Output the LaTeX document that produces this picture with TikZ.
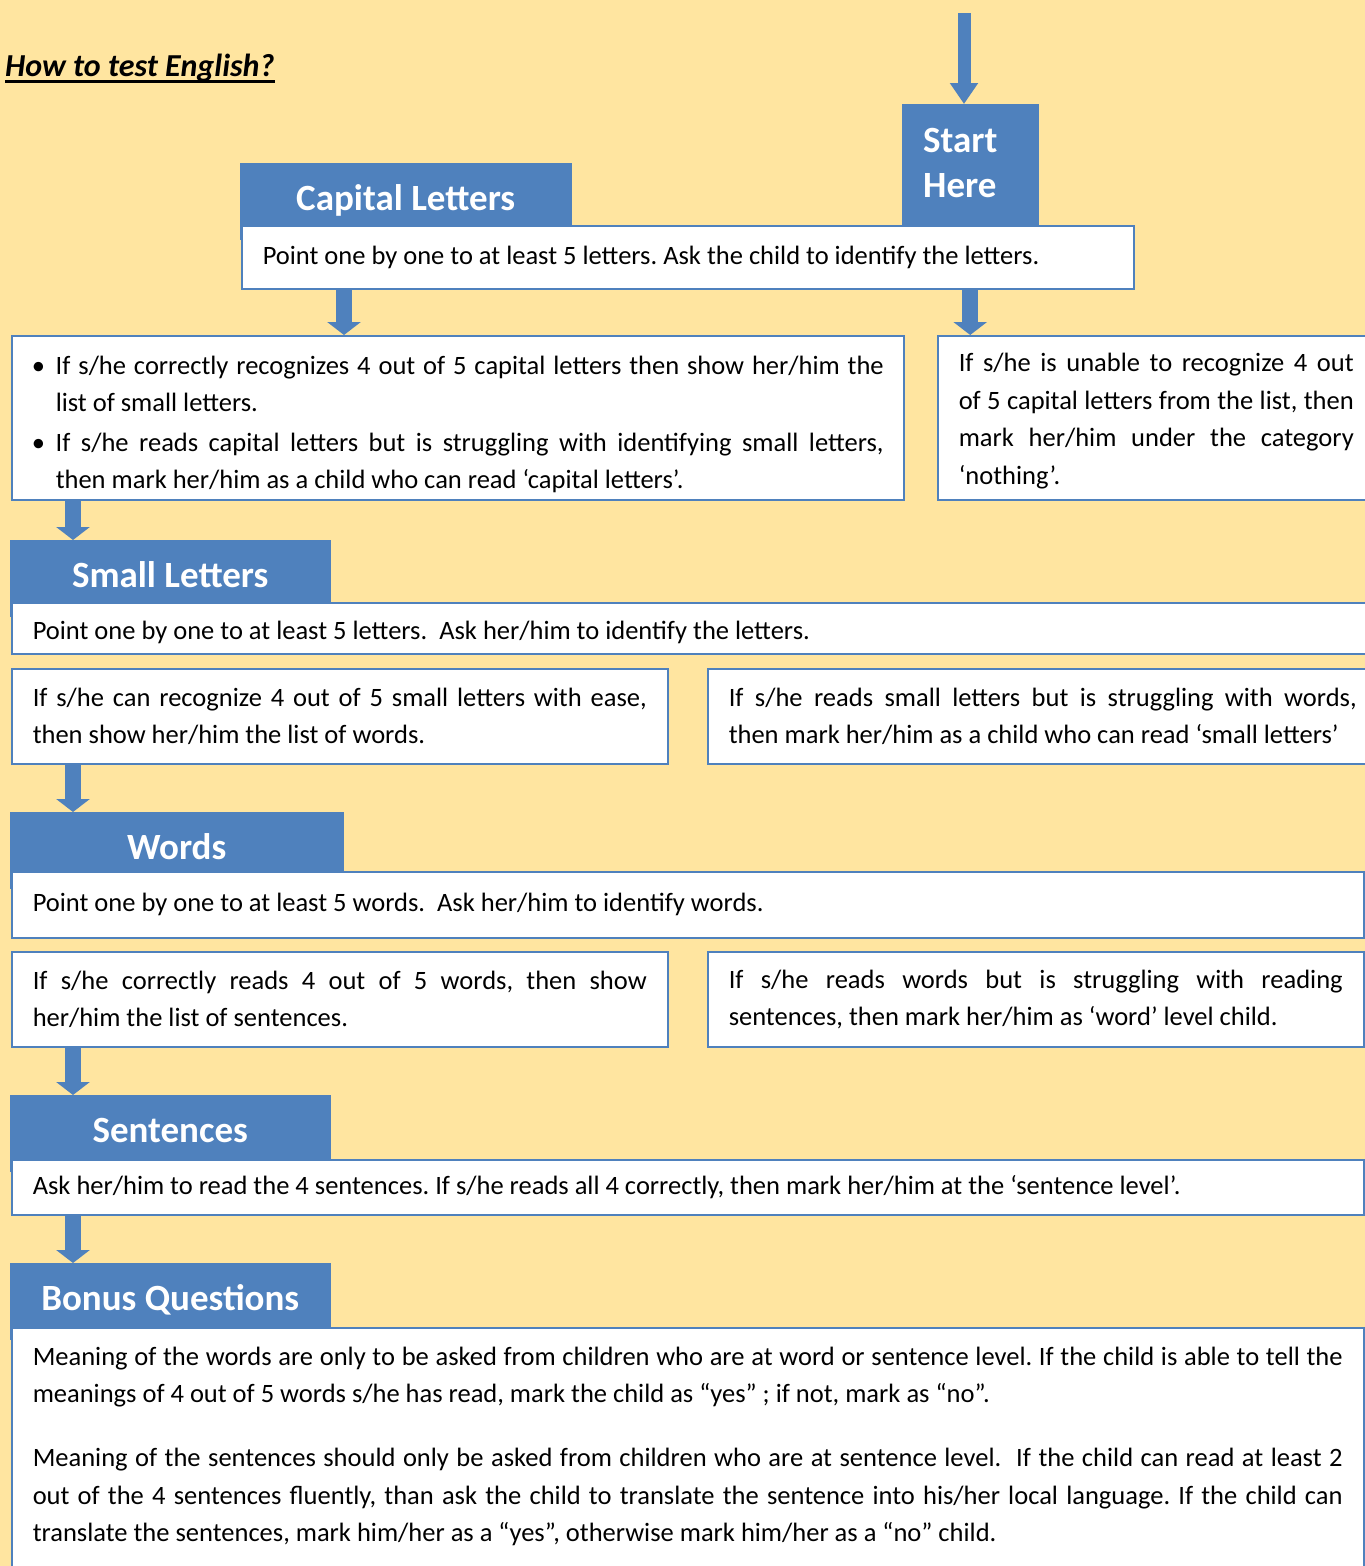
\documentclass[tikz,border=0pt]{standalone}
\usepackage{fontspec}
\setmainfont{Carlito}
\usetikzlibrary{arrows.meta}
\definecolor{paper}{HTML}{FFE5A0}
\definecolor{hdrblue}{HTML}{4F81BD}
\definecolor{boxline}{HTML}{4F81BD}
\hyphenpenalty=10000
\exhyphenpenalty=10000
\tolerance=9999
\emergencystretch=20pt
\frenchspacing

\begin{document}
\begin{tikzpicture}[x=1pt, y=-1pt,
	hdr/.style={fill=hdrblue, draw=hdrblue, anchor=north west, text=white, inner sep=0pt,
		font=\fontsize{37}{45}\selectfont\bfseries, text height=26pt, text depth=8pt, minimum height=76},
	desc/.style={fill=white, draw=boxline, line width=1.5pt, anchor=north west, align=justify,
		inner xsep=21pt, font=\fontsize{26.5}{37.5}\selectfont},
	flow/.style={draw=hdrblue, line width=16pt, -{Triangle[width=33pt,length=13pt]}}]
	
	% 1. Nền và khung
	\useasboundingbox (0,0) rectangle (1365,1566);
	\fill[paper] (0,0) rectangle (1365,1566);
	\clip (0,0) rectangle (1365,1566);
	
	% 2. Tiêu đề
	\node[anchor=base west, inner sep=0pt, font=\fontsize{32}{38}\selectfont\bfseries\itshape] (title) at (5,76) {How to test English?};
	\draw[line width=2.8pt] ([yshift=-5.3pt]title.base west) -- ([yshift=-5.3pt]title.base east);
	
	% 3. Các ô tiêu đề màu xanh
	\node[hdr, minimum width=136, text width=94, inner xsep=21pt, align=left, text depth=53pt, minimum height=123] (start) at (902,104) {Start\\Here};
	\node[hdr, minimum width=331] (caphdr) at (240,163) {Capital Letters};
	\node[hdr, minimum width=320] (smallhdr) at (10,540) {Small Letters};
	\node[hdr, minimum width=333] (wordshdr) at (10,812) {Words};
	\node[hdr, minimum width=320] (senthdr) at (10,1095) {Sentences};
	\node[hdr, minimum width=320] (bonushdr) at (10,1263) {Bonus Questions};
	
	% 4. Các ô nội dung
	\node[desc, text width=850, minimum height=63] (capdesc) at (241,225) {Point one by one to at least 5 letters. Ask the child to identify the letters.};
	\node[desc, text width=852, inner xsep=20pt, minimum height=164, text height=32pt] (ifcap) at (11,335) {%
		\makebox[24pt][l]{\textbullet}If s/he correctly recognizes 4 out of 5 capital letters then show her/him the\linebreak
		\hspace*{24pt}list of small letters.\\[2pt]
		\makebox[24pt][l]{\textbullet}If s/he reads capital letters but is struggling with identifying small letters,\linebreak
		\hspace*{24pt}then mark her/him as a child who can read ‘capital letters’.};
	\node[desc, text width=395, minimum height=164, text height=25pt] (noneccap) at (937,335) {If s/he is unable to recognize 4 out\linebreak of 5 capital letters from the list, then\linebreak mark her/him under the category\linebreak ‘nothing’.};
	
	\node[desc, text width=1340, minimum height=51, text height=26pt] (smalldesc) at (11,602) {Point one by one to at least 5 letters.\ \ Ask her/him to identify the letters.};
	\node[desc, text width=614, minimum height=95] (smallyes) at (11,668) {If s/he can recognize 4 out of 5 small letters with ease,\linebreak then show her/him the list of words.};
	\node[desc, text width=628, minimum height=95] (smallno) at (707,668) {If s/he reads small letters but is struggling with words,\linebreak then mark her/him as a child who can read ‘small letters’};
	
	\node[desc, text width=1310, minimum height=66] (wordsdesc) at (11,871) {Point one by one to at least 5 words.\ \ Ask her/him to identify words.};
	\node[desc, text width=614, minimum height=95] (wordsyes) at (11,951) {If s/he correctly reads 4 out of 5 words, then show\linebreak her/him the list of sentences.};
	\node[desc, text width=614, minimum height=95] (wordsno) at (707,951) {If s/he reads words but is struggling with reading\linebreak sentences, then mark her/him as ‘word’ level child.};
	
	\node[desc, text width=1310, minimum height=55] (sentdesc) at (11,1159) {Ask her/him to read the 4 sentences. If s/he reads all 4 correctly, then mark her/him at the ‘sentence level’.};
	
	\node[desc, text width=1310, inner ysep=19pt] (bonusdesc) at (11,1327) {Meaning of the words are only to be asked from children who are at word or sentence level. If the child is able to tell the\linebreak meanings of 4 out of 5 words s/he has read, mark the child as “yes” ; if not, mark as “no”.\\[26.5pt]
		Meaning of the sentences should only be asked from children who are at sentence level.\ \ If the child can read at least 2\linebreak out of the 4 sentences fluently, than ask the child to translate the sentence into his/her local language. If the child can\linebreak translate the sentences, mark him/her as a “yes”, otherwise mark him/her as a “no” child.\\[8pt]\mbox{}};
	
	% 5. Các mũi tên
	\coordinate (entry) at (964,13);
	\coordinate (capfork) at ([xshift=103pt]capdesc.south west);
	\coordinate (spine) at (73,0);
	\draw[flow, line width=13pt, -{Triangle[width=27pt,length=21pt]}] (entry) -- (entry |- start.north);
	\draw[flow] (capfork) -- (capfork |- ifcap.north);
	\draw[flow] (capdesc.south -| start.south) -- (noneccap.north -| start.south);
	\draw[flow] (ifcap.south -| spine) -- (smallhdr.north -| spine);
	\draw[flow] (smallyes.south -| spine) -- (wordshdr.north -| spine);
	\draw[flow] (wordsyes.south -| spine) -- (senthdr.north -| spine);
	\draw[flow] (sentdesc.south -| spine) -- (bonushdr.north -| spine);
	
\end{tikzpicture}
\end{document}
